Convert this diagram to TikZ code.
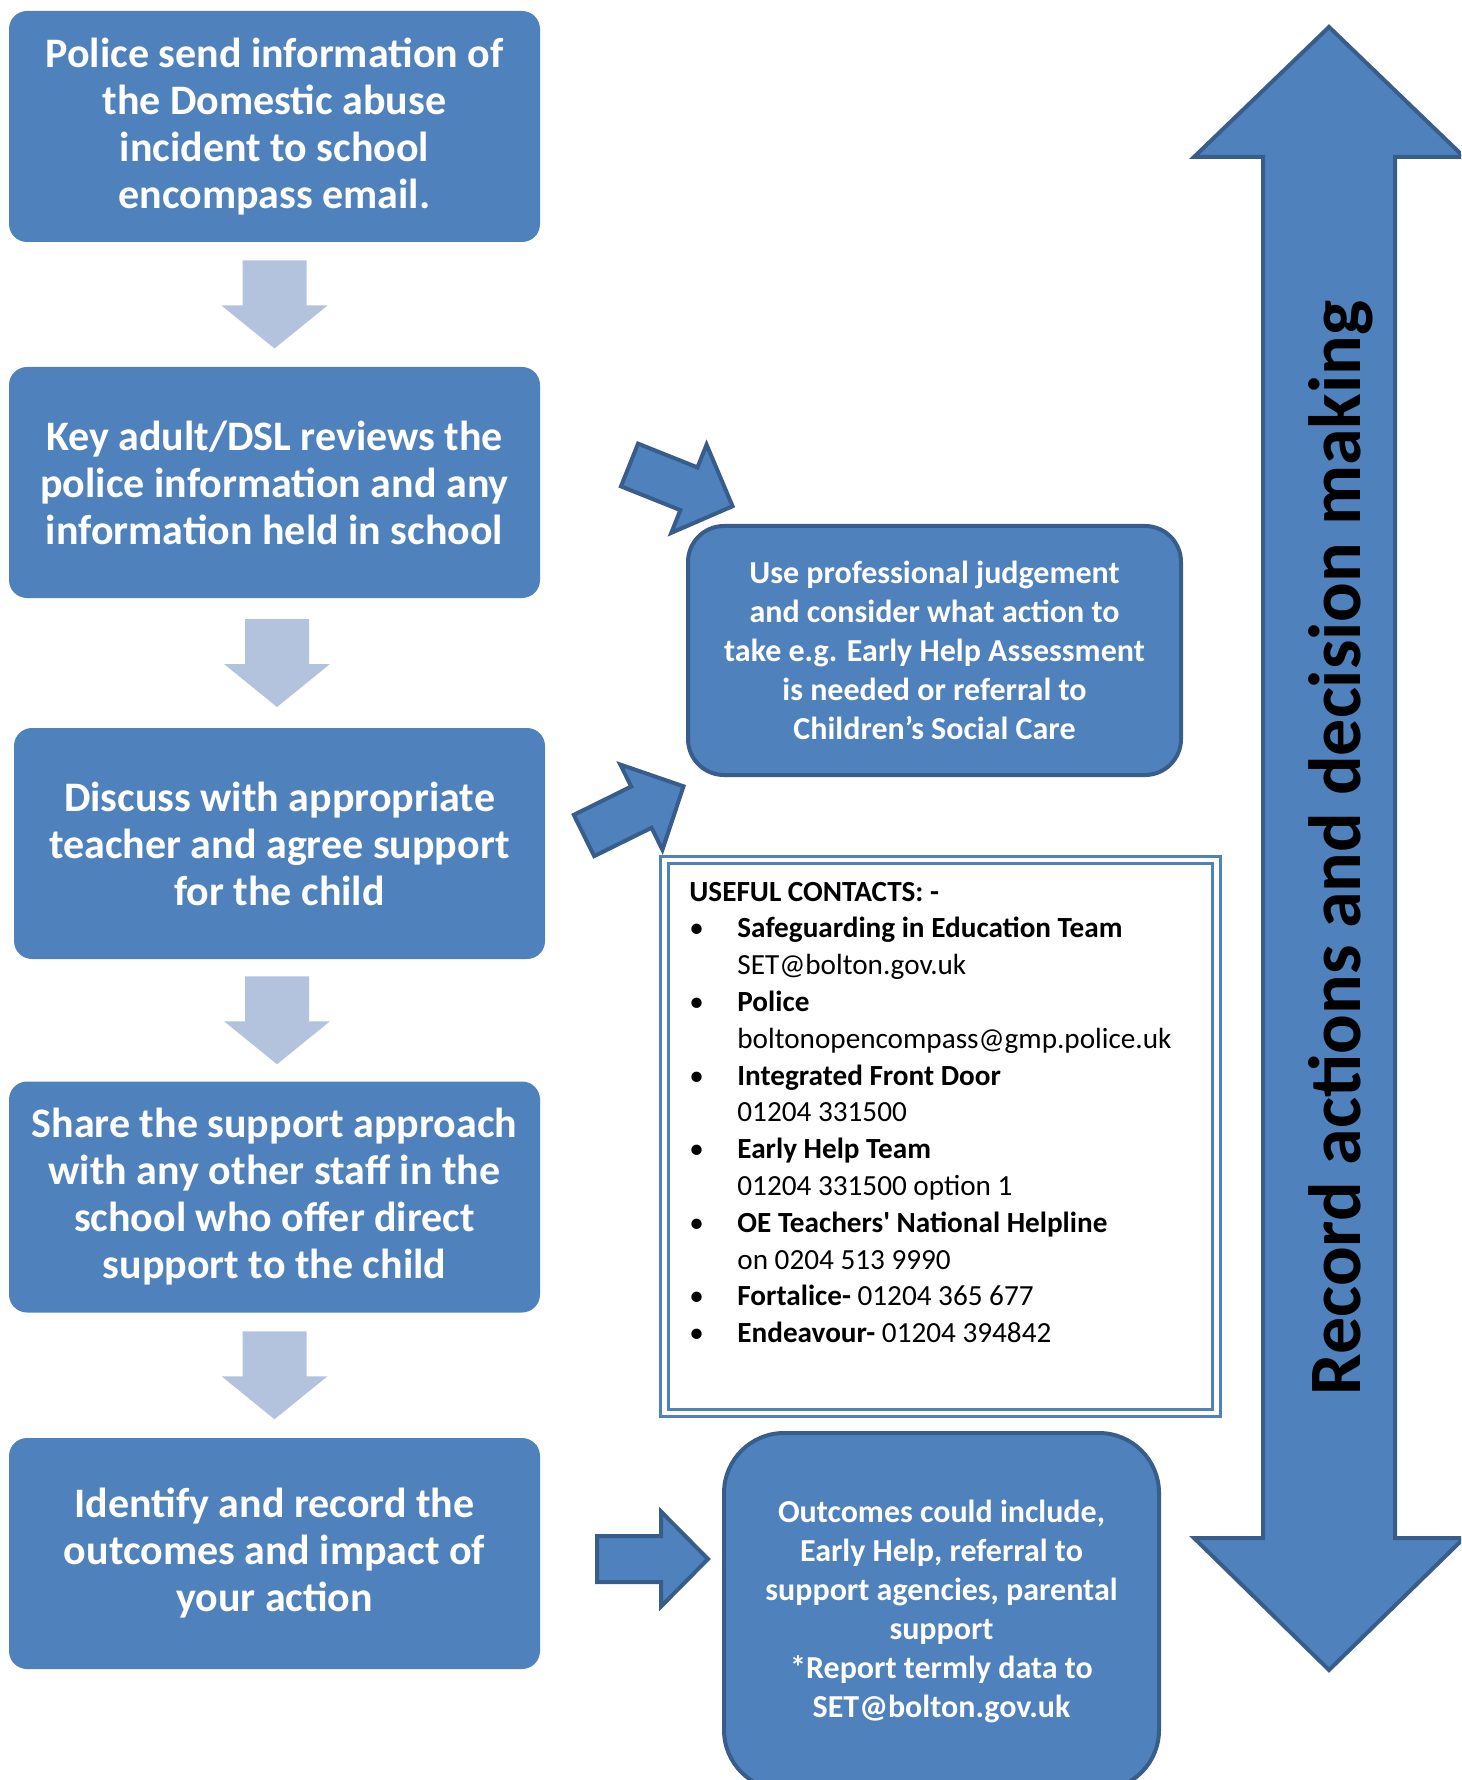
\documentclass[tikz,border=0pt]{standalone}
\usepackage{fontspec}
\newfontfamily\calibri{Carlito}
\usetikzlibrary{calc}

\definecolor{boxblue}{HTML}{4F81BD}
\definecolor{edgeblue}{HTML}{385D8A}
\definecolor{paleblue}{HTML}{B3C3DE}

\newcommand{\bul}{\makebox[24pt][l]{\textbullet}}
\newcommand{\ind}{\hspace*{24pt}}

\tikzset{
  stepbox/.style={fill=boxblue, rounded corners=9pt, text=white, align=center,
    minimum width=265.5pt, minimum height=115.5pt, inner sep=0pt,
    font=\calibri\bfseries\fontsize{21}{23.5}\selectfont},
  sidebox/.style={fill=boxblue, draw=edgeblue, line width=2pt, text=white, align=center,
    inner sep=0pt, font=\calibri\bfseries\fontsize{16}{19.5}\selectfont},
  blockarrow/.style={fill=boxblue, draw=edgeblue, line width=2pt, line join=miter},
  downarr/.pic={\fill[paleblue] (-32,-44) -- (32,-44) -- (32,1) -- (53,1) -- (0,44) -- (-53,1) -- (-32,1) -- cycle;},
  sidearr/.pic={\draw[blockarrow] (0,-23) -- (64,-23) -- (64,-47.5) -- (111,0) -- (64,47.5) -- (64,23) -- (0,23) -- cycle;}
}

\begin{document}
\begin{tikzpicture}[x=0.5pt, y=-0.5pt]
	\useasboundingbox (0,0) rectangle (1461,1780);
	\clip (0,0) rectangle (1461,1780);

	% left column
	\node[stepbox] (police) at (274.5,126.5) {Police send information of\\the Domestic abuse\\incident to school\\encompass email.};
	\node[stepbox] (review) at (274.5,482.5) {Key adult/DSL reviews the\\police information and any\\information held in school};
	\node[stepbox] (discuss) at (279.5,843.5) {Discuss with appropriate\\teacher and agree support\\for the child};
	\node[stepbox] (share) at (274.5,1197) {Share the support approach\\with any other staff in the\\school who offer direct\\support to the child};
	\node[stepbox] (identify) at (274.5,1553.5) {Identify and record the\\outcomes and impact of\\your action};

	\coordinate (m1) at ($(police.south)!0.5!(review.north)$);
	\coordinate (m2) at ($(review.south)!0.5!(discuss.north)$);
	\coordinate (m3) at ($(discuss.south)!0.5!(share.north)$);
	\coordinate (m4) at ($(share.south)!0.5!(identify.north)$);
	\foreach \m in {m1,m2,m3,m4}
		\pic at (\m) {downarr};

	% right column
	\node[sidebox, rounded corners=18pt, minimum width=246.5pt, minimum height=124.5pt] (judge) at (934.5,650.5)
		{Use professional judgement\\and consider what action to\\take e.g. Early Help Assessment\\is needed or referral to\\Children’s Social Care};
	\node[sidebox, rounded corners=30pt, minimum width=217.5pt, minimum height=178.5pt] (result) at (941.5,1611.5)
		{Outcomes could include,\\Early Help, referral to\\support agencies, parental\\support\\*Report termly data to\\SET@bolton.gov.uk};

	\pic[rotate=-21.8] at (629.5,465) {sidearr};
	\pic[rotate=26.3] at (584,835.5) {sidearr};
	\pic at (597,1559) {sidearr};

	% contacts
	\node[draw=boxblue, double, double distance=2.25pt, line width=1.5pt,
		minimum width=275.9pt, minimum height=276.5pt, inner sep=0pt] (frame) at (940.6,1136.5) {};
	\node[anchor=base west, align=left, inner sep=0pt,
		font=\calibri\fontsize{14.6}{18.4}\selectfont] (contacts) at (689,1342.6)
		{\textbf{USEFUL CONTACTS: -}\\
		\bul\textbf{Safeguarding in Education Team}\\
		\ind SET@bolton.gov.uk\\
		\bul\textbf{Police}\\
		\ind boltonopencompass@gmp.police.uk\\
		\bul\textbf{Integrated Front Door}\\
		\ind 01204 331500\\
		\bul\textbf{Early Help Team}\\
		\ind 01204 331500 option 1\\
		\bul\textbf{OE Teachers' National Helpline}\\
		\ind on 0204 513 9990\\
		\bul\textbf{Fortalice-} 01204 365 677\\
		\bul\textbf{Endeavour-} 01204 394842};

	% record arrow
	\draw[blockarrow] (1329,27) -- (1464,157) -- (1395,157) -- (1395,1538) -- (1464,1538) -- (1329,1670)
		-- (1194,1538) -- (1263,1538) -- (1263,157) -- (1194,157) -- cycle;
	\node[anchor=base, rotate=90, inner sep=0pt, font=\calibri\bfseries\fontsize{37}{44}\selectfont] (record) at (1360,848)
		{Record actions and decision making};
\end{tikzpicture}
\end{document}
